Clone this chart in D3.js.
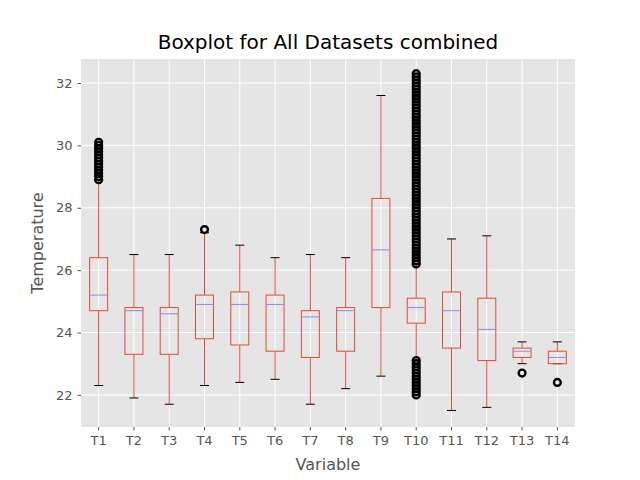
<!DOCTYPE html>
<html>
<head>
<meta charset="utf-8">
<script src="https://cdn.jsdelivr.net/npm/d3@7"></script>
<style>
  body { margin: 0; background: #fff; }
  text { font-family: "DejaVu Sans", sans-serif; }
</style>
</head>
<body>
<svg width="640" height="480"></svg>
<script>
// Box statistics
const names = ["T1","T2","T3","T4","T5","T6","T7","T8","T9","T10","T11","T12","T13","T14"];
const lowWhisker = [22.3, 21.9, 21.7, 22.3, 22.4, 22.5, 21.7, 22.2, 22.6, 23.1, 21.5, 21.6, 23.0, 23.0];
const q1 =         [24.7, 23.3, 23.3, 23.8, 23.6, 23.4, 23.2, 23.4, 24.8, 24.3, 23.5, 23.1, 23.2, 23.0];
const median =     [25.2, 24.7, 24.6, 24.9, 24.9, 24.9, 24.5, 24.7, 26.65, 24.8, 24.7, 24.1, 23.4, 23.2];
const q3 =         [26.4, 24.8, 24.8, 25.2, 25.3, 25.2, 24.7, 24.8, 28.3, 25.1, 25.3, 25.1, 23.5, 23.4];
const highWhisker =[28.9, 26.5, 26.5, 27.2, 26.8, 26.4, 26.5, 26.4, 31.6, 26.2, 27.0, 27.1, 23.7, 23.7];
// outliers (dense columns drawn as many read values)
const outliers = [
  [28.9,29.0,29.1,29.2,29.3,29.4,29.5,29.6,29.7,29.8,29.9,30.0,30.1],
  [], [], [27.3], [], [], [], [], [],
  [22.0,22.1,22.2,22.3,22.4,22.5,22.6,22.7,22.8,22.9,23.0,23.1,
   26.2,26.3,26.4,26.5,26.6,26.7,26.8,26.9,27.0,27.1,27.2,27.3,27.4,27.5,27.6,27.7,27.8,27.9,
   28.0,28.1,28.2,28.3,28.4,28.5,28.6,28.7,28.8,28.9,29.0,29.1,29.2,29.3,29.4,29.5,29.6,29.7,29.8,29.9,
   30.0,30.1,30.2,30.3,30.4,30.5,30.6,30.7,30.8,30.9,31.0,31.1,31.2,31.3,31.4,31.5,31.6,31.7,31.8,31.9,
   32.0,32.1,32.2,32.3],
  [], [], [22.7], [22.4]
];
const yTicks = [22, 24, 26, 28, 30, 32];

const margin = {left: 81, right: 65, top: 59, bottom: 53};
const width = 640, height = 480;
const svg = d3.select("svg");

const x = d3.scaleBand().domain(names).range([margin.left, width - margin.right]);
const y = d3.scaleLinear().domain([20.97, 32.77]).range([height - margin.bottom, margin.top]);

// background
svg.append("rect")
  .attr("x", margin.left).attr("y", margin.top)
  .attr("width", width - margin.left - margin.right)
  .attr("height", height - margin.top - margin.bottom)
  .attr("fill", "#E5E5E5");

// grid
svg.append("g").selectAll("line").data(yTicks).enter().append("line")
  .attr("x1", margin.left).attr("x2", width - margin.right)
  .attr("y1", d => y(d)).attr("y2", d => y(d))
  .attr("stroke", "#fff").attr("stroke-width", 1);
svg.append("g").selectAll("line").data(names).enter().append("line")
  .attr("x1", d => x(d) + x.bandwidth() / 2).attr("x2", d => x(d) + x.bandwidth() / 2)
  .attr("y1", margin.top).attr("y2", height - margin.bottom)
  .attr("stroke", "#fff").attr("stroke-width", 1);

// axes
const xAxis = svg.append("g")
  .attr("transform", "translate(0," + (height - margin.bottom) + ")")
  .call(d3.axisBottom(x).tickSize(3.5).tickPadding(5));
const yAxis = svg.append("g")
  .attr("transform", "translate(" + margin.left + ",0)")
  .call(d3.axisLeft(y).tickValues(yTicks).tickSize(3.5).tickPadding(5));
[xAxis, yAxis].forEach(a => {
  a.select(".domain").remove();
  a.selectAll("line").attr("stroke", "#555");
  a.selectAll("text").attr("fill", "#555").style("font-size", "13px").style("font-family", "DejaVu Sans");
});

const boxW = 18, capW = 9;
const cx = i => x(names[i]) + x.bandwidth() / 2;
const idx = d3.range(names.length);
const g = svg.append("g");

// whiskers
g.selectAll(".wl").data(idx).enter().append("line")
  .attr("x1", cx).attr("x2", cx)
  .attr("y1", i => y(lowWhisker[i])).attr("y2", i => y(q1[i]))
  .attr("stroke", "#E24A33");
g.selectAll(".wh").data(idx).enter().append("line")
  .attr("x1", cx).attr("x2", cx)
  .attr("y1", i => y(q3[i])).attr("y2", i => y(highWhisker[i]))
  .attr("stroke", "#E24A33");
// caps
[lowWhisker, highWhisker].forEach(arr => {
  g.selectAll(null).data(idx).enter().append("line")
    .attr("x1", i => cx(i) - capW / 2).attr("x2", i => cx(i) + capW / 2)
    .attr("y1", i => y(arr[i])).attr("y2", i => y(arr[i]))
    .attr("stroke", "#000");
});
// boxes
g.selectAll("rect.box").data(idx).enter().append("rect")
  .attr("x", i => cx(i) - boxW / 2).attr("width", boxW)
  .attr("y", i => y(q3[i])).attr("height", i => y(q1[i]) - y(q3[i]))
  .attr("fill", "none").attr("stroke", "#E24A33");
// medians
g.selectAll(".med").data(idx).enter().append("line")
  .attr("x1", i => cx(i) - boxW / 2).attr("x2", i => cx(i) + boxW / 2)
  .attr("y1", i => y(median[i])).attr("y2", i => y(median[i]))
  .attr("stroke", "#8C8CE0");
// outliers
idx.forEach(i => {
  g.selectAll(null).data(outliers[i]).enter().append("circle")
    .attr("cx", cx(i)).attr("cy", d => y(d)).attr("r", 3.4)
    .attr("fill", "none").attr("stroke", "#000").attr("stroke-width", 2.4);
});

// labels
svg.append("text").attr("x", (margin.left + width - margin.right) / 2).attr("y", 49)
  .attr("text-anchor", "middle").style("font-size", "20px").attr("fill", "#000")
  .text("Boxplot for All Datasets combined");
svg.append("text").attr("x", (margin.left + width - margin.right) / 2).attr("y", 470)
  .attr("text-anchor", "middle").style("font-size", "16px").attr("fill", "#555")
  .text("Variable");
svg.append("text").attr("transform", "translate(43," + ((margin.top + height - margin.bottom) / 2) + ") rotate(-90)")
  .attr("text-anchor", "middle").style("font-size", "16px").attr("fill", "#555")
  .text("Temperature");
</script>
</body>
</html>
